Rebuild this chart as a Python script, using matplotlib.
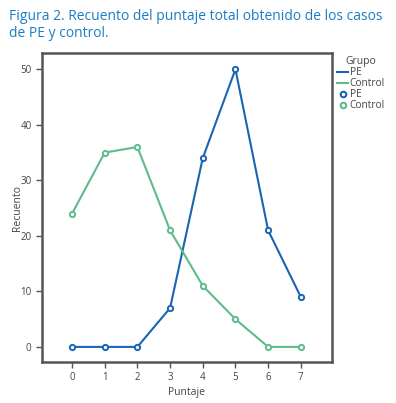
import matplotlib.pyplot as plt
from matplotlib.lines import Line2D

puntaje = [0, 1, 2, 3, 4, 5, 6, 7]
pe = [0, 0, 0, 7, 34, 50, 21, 9]
control = [24, 35, 36, 21, 11, 5, 0, 0]

blue = '#1a64b4'
green = '#5dbb8c'
gray = '#555555'
text_gray = '#444444'

plt.rcParams['font.family'] = ['Open Sans', 'DejaVu Sans']

fig = plt.figure(figsize=(3.96, 4.03), dpi=100)
ax = fig.add_axes([0.106, 0.102, 0.732, 0.766])

ax.plot(puntaje, pe, color=blue, lw=1.5, marker='o', ms=3.8, mfc='white', mec=blue, mew=1.4)
ax.plot(puntaje, control, color=green, lw=1.5, marker='o', ms=3.8, mfc='white', mec=green, mew=1.4)

ax.set_xlim(-0.92, 7.95)
ax.set_ylim(-2.7, 52.9)
ax.set_xticks(puntaje)
ax.set_yticks([0, 10, 20, 30, 40, 50])
for s in ax.spines.values():
    s.set_color(gray)
    s.set_linewidth(1.8)
ax.tick_params(colors=gray, labelcolor=text_gray, labelsize=7, width=1, length=4)
ax.set_xlabel('Puntaje', fontsize=7.5, color=text_gray, labelpad=3)
ax.set_ylabel('Recuento', fontsize=7.5, color=text_gray, labelpad=-2)

fig.text(0.022, 0.978, 'Figura 2. Recuento del puntaje total obtenido de los casos\nde PE y control.',
         fontsize=10, color='#1a7dc4', va='top', ha='left', linespacing=1.15)

handles = [
    Line2D([], [], color=blue, lw=1.5),
    Line2D([], [], color=green, lw=1.5),
    Line2D([], [], ls='none', marker='o', ms=4, mfc='white', mec=blue, mew=1.5),
    Line2D([], [], ls='none', marker='o', ms=4, mfc='white', mec=green, mew=1.5),
]
leg = fig.legend(handles, ['PE', 'Control', 'PE', 'Control'], title='Grupo',
                 loc='upper left', bbox_to_anchor=(0.833, 0.878), frameon=False,
                 fontsize=7.3, title_fontsize=7.5, handlelength=1.1, handletextpad=0.15,
                 labelspacing=0.0, borderpad=0.2)
leg.get_title().set_color(text_gray)
for t in leg.get_texts():
    t.set_color(text_gray)

fig.savefig('out.png', dpi=100)
